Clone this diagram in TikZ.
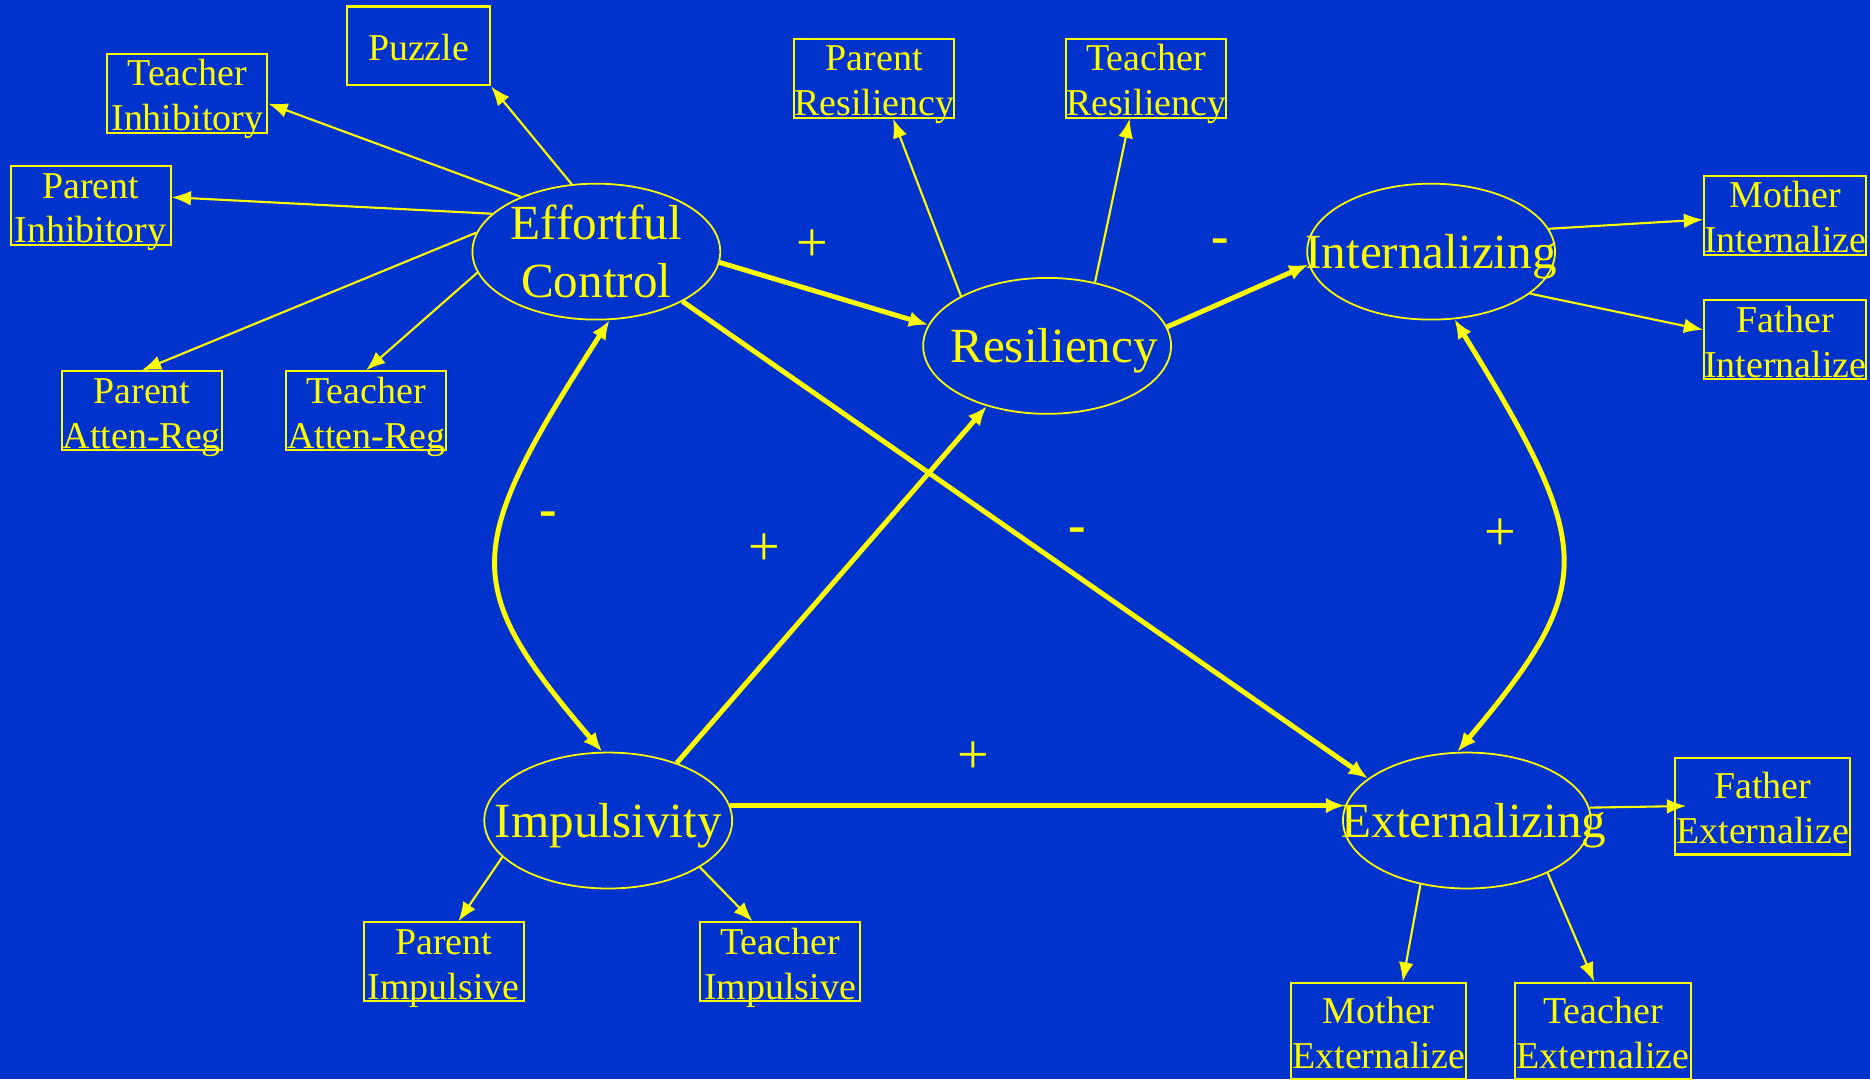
\documentclass[tikz,border=0pt]{standalone}
\usepackage{fontspec}
\setmainfont{Liberation Serif}
\usetikzlibrary{arrows.meta,shapes.geometric}

\definecolor{slideblue}{RGB}{0,51,204}
\definecolor{slideyellow}{RGB}{255,255,0}

\begin{document}
\begin{tikzpicture}[x=0.011926cm,y=-0.011926cm,
    factor/.style={ellipse,draw=slideyellow,line width=0.5pt,minimum width=2.48cm,minimum height=1.36cm,inner sep=0pt},
    every label/.style={text=slideyellow,align=center,yshift=-1.5pt,font=\fontsize{14}{16.6}\selectfont},
    measure/.style={draw=slideyellow,line width=0.6pt,text=slideyellow,minimum width=1.6cm,minimum height=0.79cm,
      inner sep=0pt,align=center,text height=21.8pt,text depth=0.6pt,font=\fontsize{10.8}{12.8}\selectfont},
    wide/.style={minimum width=1.755cm,minimum height=0.966cm,text height=24.3pt,text depth=3.1pt},
    loading/.style={draw=slideyellow,line width=0.6pt,-{Latex[length=5.5pt,width=4.2pt]}},
    effect/.style={draw=slideyellow,line width=1.4pt,-{Latex[length=5.5pt,width=4.5pt]}},
    covar/.style={effect,{Latex[length=5.5pt,width=4.5pt]}-{Latex[length=5.5pt,width=4.5pt]}},
    plus sign/.style={text=slideyellow,font=\fontsize{16}{16}\selectfont},
    minus sign/.style={text=slideyellow,font=\fontsize{15}{15}\selectfont\bfseries}]

  \path[fill=slideblue,use as bounding box] (0,0) rectangle (1568,905);

  % latent factors
  \node[factor,label={[yshift=1.5pt]center:{Effortful\\Control}}] (effortful) at (500,211) {};
  \node[factor,label={[xshift=2pt]center:Resiliency}] (resiliency) at (878,290) {};
  \node[factor,label={center:Internalizing}] (internalizing) at (1200,211) {};
  \node[factor,label={center:Impulsivity}] (impulsivity) at (510,688) {};
  \node[factor,label={[xshift=2pt]center:Externalizing}] (externalizing) at (1230,688) {};

  % indicators
  \node[measure,minimum width=1.43cm,text height=15.4pt,text depth=7pt] (puzzle) at (351,38.5) {Puzzle};
  \node[measure] (teacher inhib) at (157,78.5) {Teacher\\Inhibitory};
  \node[measure] (parent inhib) at (76,172.5) {Parent\\Inhibitory};
  \node[measure] (parent atten) at (119,344.5) {Parent\\Atten-Reg};
  \node[measure] (teacher atten) at (307,344.5) {Teacher\\Atten-Reg};
  \node[measure] (parent resil) at (733,65.5) {Parent\\Resiliency};
  \node[measure] (teacher resil) at (961,65.5) {Teacher\\Resiliency};
  \node[measure] (mother intern) at (1497,180.5) {Mother\\Internalize};
  \node[measure] (father intern) at (1497,285) {Father\\Internalize};
  \node[measure] (parent impul) at (372,806.5) {Parent\\Impulsive};
  \node[measure] (teacher impul) at (654,806.5) {Teacher\\Impulsive};
  \node[measure,wide] (father extern) at (1478,676) {Father\\Externalize};
  \node[measure,wide] (mother extern) at (1156,864.5) {Mother\\Externalize};
  \node[measure,wide] (teacher extern) at (1344,864.5) {Teacher\\Externalize};

  % loadings
  \draw[loading] (effortful.110) -- (puzzle.south east);
  \draw[loading] (effortful.144) -- (teacher inhib.-7);
  \draw[loading] (effortful.160) -- (parent inhib.6);
  \draw[loading] (effortful.171) -- (parent atten.north);
  \draw[loading] (effortful.190) -- (teacher atten.north);
  \draw[loading] (resiliency.150) -- (parent resil.-65);
  \draw[loading] (resiliency.53) -- (teacher resil.-112);
  \draw[loading] (internalizing.11) -- (mother intern.183);
  \draw[loading] (internalizing.-23) -- (father intern.173);
  \draw[loading] (impulsivity.199) -- (parent impul.70);
  \draw[loading] (impulsivity.-27) -- (teacher impul.124);
  \draw[loading,shorten >=-3.5pt] (externalizing.6) -- (father extern.west);
  \draw[loading] (externalizing.234) -- (mother extern.64);
  \draw[loading] (externalizing.-33) -- (teacher extern.100);

  % structural paths
  \draw[effect] (effortful.-5) -- (resiliency.170);
  \draw[effect] (resiliency.9) -- (internalizing.186);
  \draw[effect] (impulsivity.40) -- (resiliency.225);
  \draw[effect] (effortful.-30) -- (externalizing.157);
  \draw[effect] (impulsivity.7) -- (externalizing.173);
  \draw[covar] (effortful.-79) .. controls (388,460) and (385,490) .. (impulsivity.95);
  \draw[covar] (internalizing.-71) .. controls (1338,460) and (1340,490) .. (externalizing.98);

  % signs
  \node[plus sign] (sign ec res) at (681,206) {+};
  \node[minus sign] (sign res int) at (1023,206) {-};
  \node[minus sign] (sign ec imp) at (460,435) {-};
  \node[plus sign] (sign imp res) at (641,461) {+};
  \node[minus sign] (sign ec ext) at (903,449) {-};
  \node[plus sign] (sign int ext) at (1258,448) {+};
  \node[plus sign] (sign imp ext) at (816,635) {+};
\end{tikzpicture}
\end{document}
